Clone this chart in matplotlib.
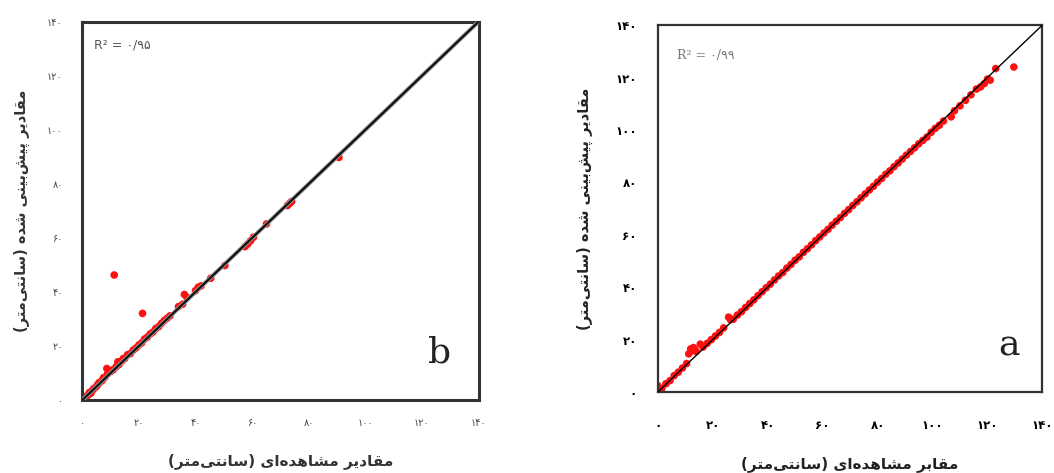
import matplotlib
matplotlib.use("Agg")
import matplotlib.pyplot as plt

# ==========================================
# data (cm)
# ==========================================
obs_b = [1, 1.5, 2, 2.5, 3, 3.5, 4, 5, 5.5, 6, 7, 7.5, 8, 8.7, 9, 10, 10.5, 11, 12, 12.6,
         13, 14, 14.5, 15, 16, 17, 18, 19, 20, 21, 22, 23, 24, 25, 26, 27, 28, 29, 30, 31,
         11.3, 21.3,
         34, 35.5, 36.1, 37, 40, 41, 42, 45.4, 50.4, 57.5, 58.5, 59.5, 60.5, 65.1,
         72.5, 73.3, 74, 90.7]
pred_b = [0.5, 1.5, 1.8, 2.8, 2.5, 3.5, 4.2, 5, 5.8, 6.5, 7.2, 8.3, 8.5, 11.7, 9.8, 10.6, 11, 11.3, 12.4, 14.2,
          13.2, 14.5, 15.4, 15.4, 16.8, 17.2, 18.5, 19.3, 20.4, 21.2, 22.6, 23.3, 24.5, 25.2, 26.5, 27.2, 28.4, 29.5, 30.3, 31.2,
          46.3, 32.1,
          34.6, 35.5, 39.1, 38, 40.5, 41.8, 42.3, 45.1, 49.8, 56.8, 57.8, 59, 60.3, 65.2,
          72, 72.8, 73.5, 89.8]

obs_a = [0, 0.5, 1.5, 3, 4.5, 6, 7.5, 9, 10.5, 11.3, 12, 12.5, 13, 13.5, 14, 15.5, 16.5, 18, 19.5,
         21, 22.5, 24, 25.8, 26.5, 27.5, 29, 30.5, 32, 33.5, 35, 36.5, 38, 39.5, 41, 42.5, 44,
         45.5, 47, 48.5, 50, 51.5, 53, 54.5, 56, 57.5, 59, 60.5, 62, 63.5, 65, 66.5, 68, 69.5,
         71, 72.5, 74, 75.5, 77, 78.5, 80, 81.5, 83, 84.5, 86, 87.5, 89, 90.5, 92, 93.5, 95,
         96.5, 98, 99.5, 101, 102.5, 104, 106.8, 108, 110, 112, 114, 116, 117.5, 118.9, 120,
         121, 123, 129.6]
pred_a = [2.5, 0.8, 1.4, 3.2, 4.4, 6.3, 7.6, 9.2, 10.9, 14.6, 16.5, 15.8, 17.0, 16.2, 15.5, 18.3, 17.2, 18.6, 20.0,
          21.4, 22.8, 24.5, 28.6, 27.6, 27.8, 29.4, 30.7, 32.3, 33.8, 35.2, 36.8, 38.3, 39.8, 41.2, 42.8, 44.3,
          45.6, 47.3, 48.7, 50.3, 51.6, 53.3, 54.7, 56.2, 57.8, 59.2, 60.7, 62.1, 63.7, 65.2, 66.6, 68.2, 69.6,
          71.2, 72.6, 74.1, 75.6, 77.1, 78.5, 80.1, 81.5, 83.1, 84.4, 86.0, 87.4, 88.9, 90.4, 91.8, 93.2, 94.7,
          96.0, 97.3, 99.1, 100.6, 101.8, 103.4, 105.0, 107.3, 109.2, 111.3, 113.4, 115.6, 116.4, 117.7, 119.4,
          119.0, 123.4, 124.0]

r2_b = "R² = ۰/۹۵"
r2_a = "R² = ۰/۹۹"
tick_vals = [0, 20, 40, 60, 80, 100, 120, 140]
tick_labels = ["۰", "۲۰", "۴۰", "۶۰", "۸۰", "۱۰۰", "۱۲۰", "۱۴۰"]
xlabel_b = "مقادیر مشاهده‌ای (سانتی‌متر)"
xlabel_a = "مقابر مشاهده‌ای (سانتی‌متر)"
ylabel_txt = "مقادیر پیش‌بینی شده (سانتی‌متر)"

# ==========================================
# matplotlib does no Arabic shaping: use presentation forms, visual order
# (isolated, final, initial, medial)
# ==========================================
FORMS = {
    'ا': ('\ufe8d', '\ufe8e', None, None),
    'د': ('\ufea9', '\ufeaa', None, None),
    'ر': ('\ufead', '\ufeae', None, None),
    'ب': ('\ufe8f', '\ufe90', '\ufe91', '\ufe92'),
    'پ': ('\ufb56', '\ufb57', '\ufb58', '\ufb59'),
    'ت': ('\ufe95', '\ufe96', '\ufe97', '\ufe98'),
    'س': ('\ufeb1', '\ufeb2', '\ufeb3', '\ufeb4'),
    'ش': ('\ufeb5', '\ufeb6', '\ufeb7', '\ufeb8'),
    'ق': ('\ufed5', '\ufed6', '\ufed7', '\ufed8'),
    'م': ('\ufee1', '\ufee2', '\ufee3', '\ufee4'),
    'ن': ('\ufee5', '\ufee6', '\ufee7', '\ufee8'),
    'ه': ('\ufee9', '\ufeea', '\ufeeb', '\ufeec'),
    'ی': ('\ufbfc', '\ufbfd', '\ufbfe', '\ufbff'),
}


def rtl(text):
    out = []
    for i, ch in enumerate(text):
        if ch not in FORMS:
            if ch != '\u200c':
                out.append({'(': ')', ')': '('}.get(ch, ch))
            continue
        prev = text[i - 1] if i > 0 else ''
        nxt = text[i + 1] if i + 1 < len(text) else ''
        join_prev = prev in FORMS and FORMS[prev][2] is not None
        join_next = nxt in FORMS and FORMS[ch][2] is not None
        iso, fin, ini, med = FORMS[ch]
        if join_prev and join_next:
            out.append(med)
        elif join_prev:
            out.append(fin)
        elif join_next:
            out.append(ini)
        else:
            out.append(iso)
    return ''.join(reversed(out))


plt.rcParams['font.family'] = ['DejaVu Sans']

fig = plt.figure(figsize=(10.54, 4.73), dpi=100)
ax_b = fig.add_axes([0.078, 0.154, 0.376, 0.800])
ax_a = fig.add_axes([0.624, 0.171, 0.365, 0.776])

# ---- panel b ----
ax_b.scatter(obs_b, pred_b, s=30, color='#ff1010', edgecolors='none', zorder=2)
ax_b.axline((0, 0), slope=1, color='#999999', linewidth=3.0, zorder=3)
ax_b.axline((0, 0), slope=1, color='#111111', linewidth=1.6, zorder=4)
ax_b.text(0.03, 0.955, r2_b, transform=ax_b.transAxes, fontsize=9, color='#555555', va='top')
ax_b.text(0.93, 0.08, "b", transform=ax_b.transAxes, fontsize=26, family='DejaVu Serif',
          color='#222222', ha='right', va='bottom')
ax_b.set_xticks(tick_vals, tick_labels, fontsize=7, color='#444444')
ax_b.set_yticks(tick_vals, tick_labels, fontsize=7, color='#444444')
ax_b.tick_params(axis='x', length=0, pad=13)
ax_b.tick_params(axis='y', length=0, pad=14)
ax_b.set_xlabel(rtl(xlabel_b), fontsize=11, fontweight='bold', color='#333333', labelpad=18)
ax_b.set_ylabel(rtl(ylabel_txt), fontsize=10.5, fontweight='bold', color='#333333', labelpad=12)
for sp in ax_b.spines.values():
    sp.set_linewidth(2.2)
    sp.set_color('#333333')

# ---- panel a ----
ax_a.scatter(obs_a, pred_a, s=30, color='#ff1010', edgecolors='none', zorder=2)
ax_a.axline((0, 0), slope=1, color='black', linewidth=1.0, zorder=3)
ax_a.text(0.05, 0.935, r2_a, transform=ax_a.transAxes, fontsize=9, color='#777777',
          family=['DejaVu Serif', 'DejaVu Sans'], va='top')
ax_a.text(0.94, 0.08, "a", transform=ax_a.transAxes, fontsize=26, family='DejaVu Serif',
          color='#222222', ha='right', va='bottom')
ax_a.set_xticks(tick_vals, tick_labels, fontsize=8.5, fontweight='bold')
ax_a.set_yticks(tick_vals, tick_labels, fontsize=8.5, fontweight='bold')
ax_a.tick_params(axis='x', length=0, pad=19)
ax_a.tick_params(axis='y', length=0, pad=15)
ax_a.set_xlabel(rtl(xlabel_a), fontsize=11, fontweight='bold', color='#222222', labelpad=18)
ax_a.set_ylabel(rtl(ylabel_txt), fontsize=10.5, fontweight='bold', color='#222222', labelpad=16)
for sp in ax_a.spines.values():
    sp.set_linewidth(1.6)
    sp.set_color('#333333')

for ax in (ax_a, ax_b):
    ax.set_xlim(0, 140)
    ax.set_ylim(0, 140)

fig.savefig("out.png", dpi=100)
